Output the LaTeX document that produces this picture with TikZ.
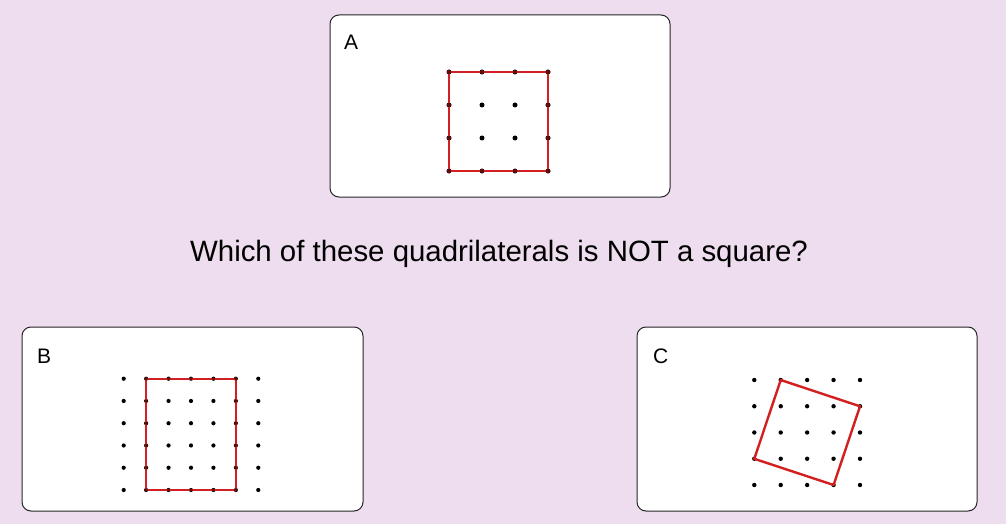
\documentclass[tikz,border=0pt]{standalone}
\usepackage{fontspec}
\setmainfont{Liberation Sans}
\definecolor{bg}{RGB}{238,221,238}
\definecolor{sqred}{RGB}{210,32,32}
\begin{document}
\begin{tikzpicture}[x=1pt,y=-1pt,
  panel/.style={draw=black!85,line width=1pt,fill=white,rounded corners=9pt},
  lbl/.style={anchor=base west,inner sep=0pt,font=\fontsize{21}{25}\selectfont},
  quadline/.style={draw=sqred,line width=2.8pt,line join=round}]
\fill[bg] (0,0) rectangle (1006,524);
\useasboundingbox (0,0) rectangle (1006,524);
% Panel A
\draw[panel] (330,15) rectangle (670,197);
\node[lbl] (la) at (344,50) {A};
\foreach \i in {0,...,3}{\foreach \j in {0,...,3}{
  \fill[black] (449+33*\i,72+33*\j) circle (2.5pt);}}
\coordinate (a1) at (449,72); \coordinate (a2) at (548,72);
\coordinate (a3) at (548,171); \coordinate (a4) at (449,171);
\draw[quadline] (a1) -- (a2) -- (a3) -- (a4) -- cycle;
\foreach \i in {0,...,3}{\foreach \j in {0,3}{
  \fill[black!55!sqred] (449+33*\i,72+33*\j) circle (2.2pt);
  \fill[black!55!sqred] (449+33*\j,72+33*\i) circle (2.2pt);}}
% Question
\node[inner sep=0pt,anchor=base,font=\fontsize{29.4}{34}\selectfont] (q) at (499,261) {Which of these quadrilaterals is NOT a square?};
% Panel B
\draw[panel] (22,327) rectangle (363,511);
\node[lbl] (lb) at (37,363) {B};
\foreach \i in {0,...,6}{\foreach \j in {0,...,5}{
  \fill[black] (123.7+22.43*\i,378.7+22.26*\j) circle (2.1pt);}}
\coordinate (b1) at (146.1,378.7); \coordinate (b2) at (235.8,378.7);
\coordinate (b3) at (235.8,490); \coordinate (b4) at (146.1,490);
\draw[quadline,line width=2.3pt] (b1) -- (b2) -- (b3) -- (b4) -- cycle;
\foreach \j in {0,...,5}{
  \fill[black!55!sqred] (146.1,378.7+22.26*\j) circle (1.8pt);
  \fill[black!55!sqred] (235.8,378.7+22.26*\j) circle (1.8pt);}
\foreach \i in {1,...,5}{
  \fill[black!55!sqred] (123.7+22.43*\i,378.7) circle (1.8pt);
  \fill[black!55!sqred] (123.7+22.43*\i,490) circle (1.8pt);}
% Panel C
\draw[panel] (637,327) rectangle (977,511);
\node[lbl] (lc) at (653,363) {C};
\foreach \i in {0,...,4}{\foreach \j in {0,...,4}{
  \fill[black] (754.3+26.42*\i,380+26.25*\j) circle (2.2pt);}}
\coordinate (c1) at (780.7,380); \coordinate (c2) at (860,406.3);
\coordinate (c3) at (833.6,485); \coordinate (c4) at (754.3,458.8);
\draw[quadline,line width=2.4pt] (c1) -- (c2) -- (c3) -- (c4) -- cycle;
\end{tikzpicture}
\end{document}
